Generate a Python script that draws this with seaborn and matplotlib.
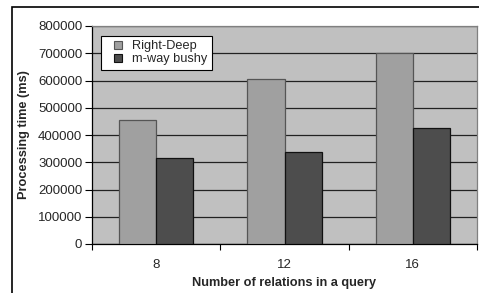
import pandas as pd
import matplotlib
matplotlib.use("Agg")
import matplotlib.pyplot as plt
import seaborn as sns
from matplotlib.patches import Rectangle
from matplotlib.lines import Line2D

# data
relations = ["8", "12", "16"]
right_deep = [456000, 607000, 700000]
mway_bushy = [315000, 339000, 427000]
series = ["Right-Deep", "m-way bushy"]

df = pd.DataFrame({
    "relations": relations * 2,
    "time": right_deep + mway_bushy,
    "plan": [series[0]] * 3 + [series[1]] * 3,
})

sns.set_style("white")
plt.rcParams["font.family"] = ["Liberation Sans", "DejaVu Sans"]

fig = plt.figure(figsize=(4.79, 2.93), dpi=100)
ax = fig.add_axes([92 / 479, 49 / 293, 385 / 479, 218 / 293])
ax.set_facecolor("#C0C0C0")

colors = ["#A0A0A0", "#4D4D4D"]
edges = ["#555555", "#111111"]
sns.barplot(data=df, x="relations", y="time", hue="plan", order=relations,
            hue_order=series, palette=dict(zip(series, colors)), width=0.58,
            gap=0, saturation=1, ax=ax, zorder=3, legend=False)
for cont, ec in zip(ax.containers, edges):
    for bar in cont:
        bar.set_edgecolor(ec)
        bar.set_linewidth(0.9)

ax.set_ylim(0, 800000)
ax.set_xlim(-0.5, 2.5)
yt = list(range(0, 800001, 100000))
ax.set_yticks(yt)
ax.set_yticklabels([str(v) for v in yt], fontsize=9.5)
ax.yaxis.grid(True, color="#222222", linewidth=0.9, zorder=0)
ax.set_axisbelow(True)
ax.tick_params(axis="y", length=5, width=0.8, color="black", direction="out", left=True, pad=2)

# category ticks sit between the groups, labels in the middle
ax.set_xticks([-0.5, 0.5, 1.5, 2.5])
ax.set_xticklabels([""] * 4)
ax.set_xticks([0, 1, 2], minor=True)
ax.set_xticklabels(relations, minor=True, fontsize=9.5)
ax.tick_params(axis="x", which="major", length=4, width=0.8, color="black", direction="out", bottom=True)
ax.tick_params(axis="x", which="minor", length=0, pad=11)

for side in ["top", "right"]:
    ax.spines[side].set_color("#808080")
    ax.spines[side].set_linewidth(0.9)
for side in ["left", "bottom"]:
    ax.spines[side].set_color("black")
    ax.spines[side].set_linewidth(0.9)

ax.set_xlabel("Number of relations in a query", fontsize=9.2, fontweight="bold", labelpad=4)
ax.set_ylabel("Processing time (ms)", fontsize=9.2, fontweight="bold", labelpad=6)

handles = [Line2D([], [], linestyle="none", marker="s", markersize=5.5,
                  markerfacecolor=c, markeredgecolor=ec, markeredgewidth=0.8)
           for c, ec in zip(colors, edges)]
leg = ax.legend(handles, series, loc="upper left", bbox_to_anchor=(9 / 385, 208 / 218),
                fontsize=9.2, frameon=True, fancybox=False, edgecolor="black",
                framealpha=1, handlelength=2.0, handletextpad=0.1,
                borderpad=0.35, labelspacing=0.05, borderaxespad=0)
leg.get_frame().set_linewidth(0.8)

# outer frame around the chart
fig.patches.append(Rectangle((12 / 479, -0.05), 1.1, 1.05 - 7 / 293,
                             transform=fig.transFigure, fill=False,
                             edgecolor="black", linewidth=1.2))

fig.savefig("out.png", dpi=100)
